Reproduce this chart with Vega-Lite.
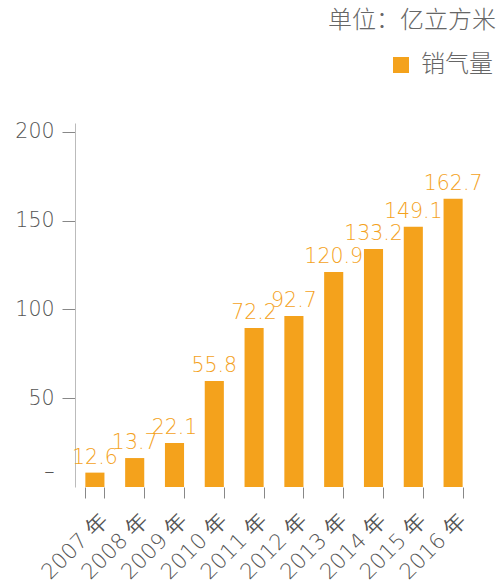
{
  "$schema": "https://vega.github.io/schema/vega-lite/v6.json",
  "autosize": "none",
  "width": 414,
  "height": 364,
  "padding": {"left": 75, "top": 123, "right": 14, "bottom": 96},
  "background": "white",
  "title": {
    "text": "单位：亿立方米",
    "anchor": "end",
    "orient": "top",
    "offset": 1,
    "baseline": "alphabetic",
    "dx": 3,
    "fontSize": 24,
    "fontWeight": 300,
    "color": "#666666",
    "font": "Noto Sans CJK SC"
  },
  "config": {
    "view": {"stroke": null},
    "font": "DejaVu Sans"
  },
  "data": {
    "values": [
      {"year": "2007 年", "bar": 8.1, "label": "12.6", "name": "销气量"},
      {"year": "2008 年", "bar": 16.3, "label": "13.7", "name": "销气量"},
      {"year": "2009 年", "bar": 24.8, "label": "22.1", "name": "销气量"},
      {"year": "2010 年", "bar": 59.7, "label": "55.8", "name": "销气量"},
      {"year": "2011 年", "bar": 89.6, "label": "72.2", "name": "销气量"},
      {"year": "2012 年", "bar": 96.3, "label": "92.7", "name": "销气量"},
      {"year": "2013 年", "bar": 121.1, "label": "120.9", "name": "销气量"},
      {"year": "2014 年", "bar": 134.1, "label": "133.2", "name": "销气量"},
      {"year": "2015 年", "bar": 146.5, "label": "149.1", "name": "销气量"},
      {"year": "2016 年", "bar": 162.3, "label": "162.7", "name": "销气量"}
    ]
  },
  "encoding": {
    "x": {
      "field": "year",
      "type": "nominal",
      "sort": null,
      "scale": {"range": [0, 398], "paddingInner": 0.52, "paddingOuter": 0.26},
      "axis": {
        "title": null,
        "domain": false,
        "tickBand": "extent",
        "tickColor": "#888888",
        "tickSize": 11,
        "labelAngle": -45,
        "labelFontSize": 21.5,
        "labelFontWeight": 200,
        "labelColor": "#555555",
        "labelPadding": 11,
        "labelOffset": 2
      }
    },
    "y": {
      "field": "bar",
      "type": "quantitative",
      "scale": {"domain": [0, 205], "nice": false},
      "axis": {
        "title": null,
        "grid": false,
        "values": [0, 50, 100, 150, 200],
        "labelExpr": "datum.value == 0 ? '–' : datum.label",
        "domainColor": "#bbbbbb",
        "tickColor": "#888888",
        "tickOpacity": {"condition": {"test": "datum.value == 0", "value": 0}, "value": 1},
        "labelOffset": {"condition": {"test": "datum.value == 0", "value": -16}, "value": 0},
        "tickSize": 13,
        "labelPadding": 8,
        "labelFontSize": 20.5,
        "labelFontWeight": 200,
        "labelColor": "#555555"
      }
    }
  },
  "layer": [
    {
      "mark": {"type": "bar"},
      "encoding": {
        "color": {
          "field": "name",
          "type": "nominal",
          "scale": {"range": ["#F4A21C"]},
          "legend": {
            "title": null,
            "orient": "none",
            "legendX": 314,
            "legendY": -70,
            "symbolType": "square",
            "symbolSize": 256,
            "symbolStrokeWidth": 0,
            "labelFont": "Noto Sans CJK SC",
            "labelFontSize": 24,
            "labelFontWeight": 300,
            "labelColor": "#666666",
            "labelOffset": 8
          }
        }
      }
    },
    {
      "mark": {"type": "text", "baseline": "alphabetic", "dy": -9, "fontSize": 20.5, "fontWeight": 200, "color": "#F4A21C"},
      "encoding": {"text": {"field": "label"}}
    },
    {
      "mark": {"type": "rule", "color": "#bbbbbb"},
      "encoding": {"y": {"datum": 0}}
    }
  ]
}
